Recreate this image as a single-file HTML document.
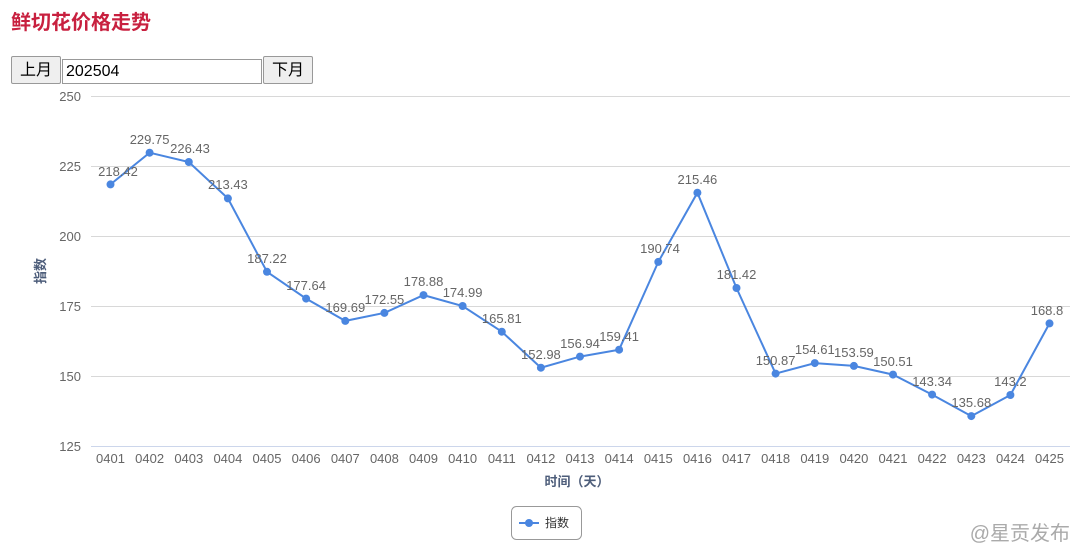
<!DOCTYPE html>
<html><head><meta charset="utf-8"><style>
body{margin:0;width:1080px;height:554px;background:#fff;overflow:hidden;position:relative;font-family:"Liberation Sans","Noto Sans CJK SC",sans-serif}
h1{position:absolute;left:11px;top:6px;margin:0;font-size:20px;color:#c8203f;font-weight:bold}
.btn{position:absolute;top:56px;height:28px;width:50px;border:1px solid #999;border-radius:2px;background:#efefef;font-size:16px;text-align:center;line-height:28px;box-sizing:border-box}
.inp{position:absolute;left:62px;top:59px;width:200px;height:25px;border:1px solid #999;box-sizing:border-box;font-size:16px;line-height:23px;padding-left:3px}
svg{position:absolute;left:0;top:0}
</style></head><body>
<h1>鲜切花价格走势</h1>
<div class="btn" style="left:11px">上月</div>
<div class="inp">202504</div>
<div class="btn" style="left:263px">下月</div>
<svg width="1080" height="554" font-family="Liberation Sans, Noto Sans CJK SC, sans-serif">
<g stroke="#d8d8d8" stroke-width="1">
<line x1="91" x2="1070" y1="96.5" y2="96.5"/><line x1="91" x2="1070" y1="166.5" y2="166.5"/><line x1="91" x2="1070" y1="236.5" y2="236.5"/><line x1="91" x2="1070" y1="306.5" y2="306.5"/><line x1="91" x2="1070" y1="376.5" y2="376.5"/>
</g>
<line x1="91" x2="1070" y1="446.5" y2="446.5" stroke="#ccd6eb"/>
<g fill="#666" font-size="13" text-anchor="end">
<text x="81" y="101">250</text><text x="81" y="171">225</text><text x="81" y="241">200</text><text x="81" y="311">175</text><text x="81" y="381">150</text><text x="81" y="451">125</text>
</g>
<g fill="#666" font-size="13" text-anchor="middle">
<text x="110.5" y="463">0401</text><text x="149.6" y="463">0402</text><text x="188.8" y="463">0403</text><text x="227.9" y="463">0404</text><text x="267" y="463">0405</text><text x="306.1" y="463">0406</text><text x="345.3" y="463">0407</text><text x="384.4" y="463">0408</text><text x="423.5" y="463">0409</text><text x="462.6" y="463">0410</text><text x="501.8" y="463">0411</text><text x="540.9" y="463">0412</text><text x="580" y="463">0413</text><text x="619.1" y="463">0414</text><text x="658.3" y="463">0415</text><text x="697.4" y="463">0416</text><text x="736.5" y="463">0417</text><text x="775.6" y="463">0418</text><text x="814.8" y="463">0419</text><text x="853.9" y="463">0420</text><text x="893" y="463">0421</text><text x="932.1" y="463">0422</text><text x="971.3" y="463">0423</text><text x="1010.4" y="463">0424</text><text x="1049.5" y="463">0425</text>
</g>
<text x="577" y="486" fill="#4d5d7a" font-size="13" font-weight="bold" text-anchor="middle">时间（天）</text>
<text transform="translate(45,271) rotate(-90)" fill="#4d5d7a" font-size="13" font-weight="bold" text-anchor="middle">指数</text>
<polyline fill="none" stroke="#4a86e0" stroke-width="2" points="110.5,184.4 149.6,152.7 188.8,162 227.9,198.4 267,271.8 306.1,298.6 345.3,320.9 384.4,312.9 423.5,295.1 462.6,306 501.8,331.7 540.9,367.7 580,356.6 619.1,349.7 658.3,261.9 697.4,192.7 736.5,288 775.6,373.6 814.8,363.1 853.9,365.9 893,374.6 932.1,394.6 971.3,416.1 1010.4,395 1049.5,323.4"/>
<g fill="#4a86e0">
<circle cx="110.5" cy="184.4" r="4"/><circle cx="149.6" cy="152.7" r="4"/><circle cx="188.8" cy="162" r="4"/><circle cx="227.9" cy="198.4" r="4"/><circle cx="267" cy="271.8" r="4"/><circle cx="306.1" cy="298.6" r="4"/><circle cx="345.3" cy="320.9" r="4"/><circle cx="384.4" cy="312.9" r="4"/><circle cx="423.5" cy="295.1" r="4"/><circle cx="462.6" cy="306" r="4"/><circle cx="501.8" cy="331.7" r="4"/><circle cx="540.9" cy="367.7" r="4"/><circle cx="580" cy="356.6" r="4"/><circle cx="619.1" cy="349.7" r="4"/><circle cx="658.3" cy="261.9" r="4"/><circle cx="697.4" cy="192.7" r="4"/><circle cx="736.5" cy="288" r="4"/><circle cx="775.6" cy="373.6" r="4"/><circle cx="814.8" cy="363.1" r="4"/><circle cx="853.9" cy="365.9" r="4"/><circle cx="893" cy="374.6" r="4"/><circle cx="932.1" cy="394.6" r="4"/><circle cx="971.3" cy="416.1" r="4"/><circle cx="1010.4" cy="395" r="4"/><circle cx="1049.5" cy="323.4" r="4"/>
</g>
<g fill="#666" font-size="13" text-anchor="middle">
<text x="118" y="176">218.42</text><text x="149.6" y="144">229.75</text><text x="190" y="153">226.43</text><text x="227.9" y="189">213.43</text><text x="267" y="263">187.22</text><text x="306.1" y="290">177.64</text><text x="345.3" y="312">169.69</text><text x="384.4" y="304">172.55</text><text x="423.5" y="286">178.88</text><text x="462.6" y="297">174.99</text><text x="501.8" y="323">165.81</text><text x="540.9" y="359">152.98</text><text x="580" y="348">156.94</text><text x="619.1" y="341">159.41</text><text x="660" y="253">190.74</text><text x="697.4" y="184">215.46</text><text x="736.5" y="279">181.42</text><text x="775.6" y="365">150.87</text><text x="814.8" y="354">154.61</text><text x="853.9" y="357">153.59</text><text x="893" y="366">150.51</text><text x="932.1" y="386">143.34</text><text x="971.3" y="407">135.68</text><text x="1010.4" y="386">143.2</text><text x="1047" y="315">168.8</text>
</g>
<rect x="511.5" y="506.5" width="70" height="33" rx="5" fill="#fff" stroke="#999"/>
<line x1="519" x2="539" y1="523" y2="523" stroke="#4a86e0" stroke-width="2"/><circle cx="529" cy="523" r="4" fill="#4a86e0"/>
<text x="545" y="527" fill="#333" font-size="12">指数</text>
<text x="1070" y="540" fill="#aaa" font-size="20" text-anchor="end">@星贡发布</text>
</svg>
</body></html>
